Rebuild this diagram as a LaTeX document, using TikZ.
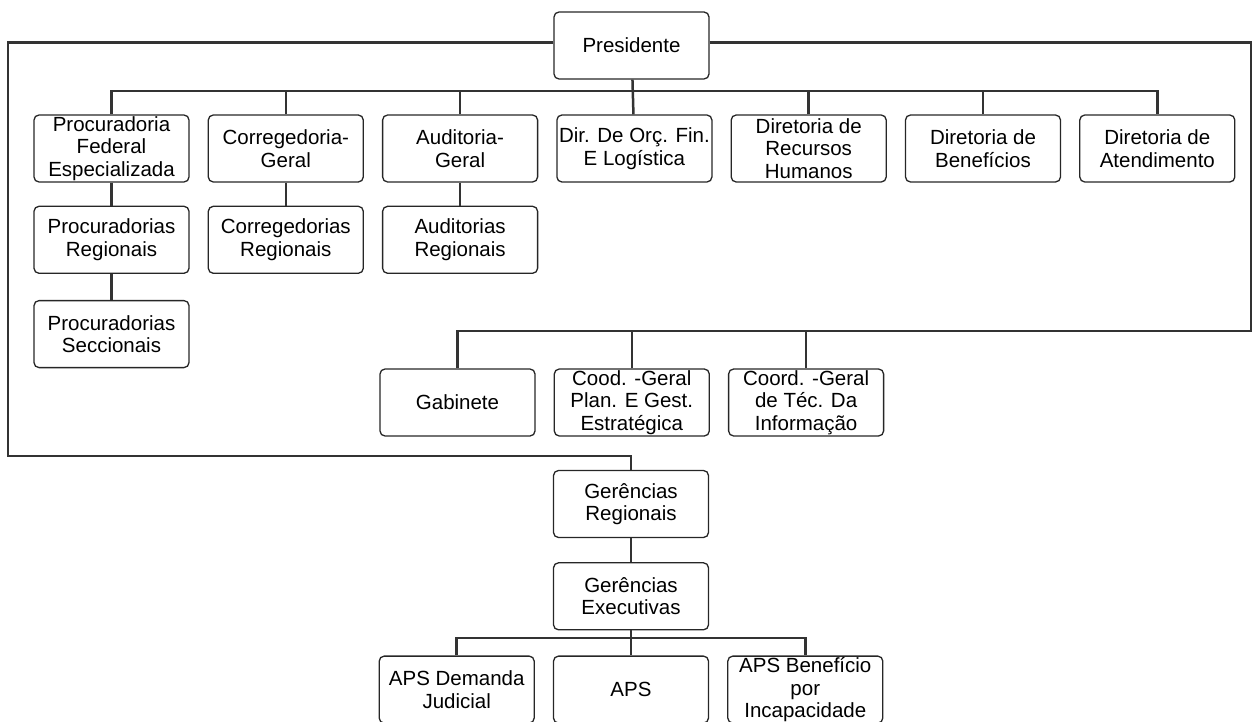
\documentclass[tikz,border=0pt]{standalone}
\usepackage{fontspec}
\setmainfont{Liberation Sans}
\usetikzlibrary{positioning}
\tikzstyle{unit} = [rectangle, rounded corners=5pt, minimum width=155pt, minimum height=67pt, inner sep=0pt, text centered, align=center, draw=black!85, line width=1.3pt, font=\fontsize{20.5}{22.5}\selectfont]
\tikzstyle{link} = [line width=2.5pt, draw=black!80]

\begin{document}
\begin{tikzpicture}[x=1pt,y=-1pt,node distance=18pt]
\useasboundingbox (0,0) rectangle (1255,722);

\node (pres) [unit] at (631.5,45.5) {Presidente};

% diretorias
\node (pfe) [unit] at (111.5,148.5) {Procuradoria\\Federal\\Especializada};
\node (corr) [unit, right=of pfe] {Corregedoria-\\Geral};
\node (aud) [unit, right=of corr] {Auditoria-\\Geral};
\node (dof) [unit, right=of aud] {Dir. De Orç. Fin.\\E Logística};
\node (drh) [unit, right=of dof] {Diretoria de\\Recursos\\Humanos};
\node (dben) [unit, right=of drh] {Diretoria de\\Benefícios};
\node (dat) [unit, right=of dben] {Diretoria de\\Atendimento};

\node (preg) [unit, below=23pt of pfe] {Procuradorias\\Regionais};
\node (creg) [unit, below=23pt of corr] {Corregedorias\\Regionais};
\node (areg) [unit, below=23pt of aud] {Auditorias\\Regionais};
\node (psec) [unit, below=26pt of preg] {Procuradorias\\Seccionais};

% orgaos de assistencia
\node (gab) [unit] at (457.5,402.5) {Gabinete};
\node (cgp) [unit, right=of gab] {Cood. -Geral\\Plan. E Gest.\\Estratégica};
\node (cgt) [unit, right=of cgp] {Coord. -Geral\\de Téc. Da\\Informação};

% gerencias
\node (greg) [unit] at (631,504) {Gerências\\Regionais};
\node (gexe) [unit, below=24pt of greg] {Gerências\\Executivas};
\node (aps) [unit, below=25pt of gexe] {APS};
\node (apsj) [unit, left=of aps] {APS Demanda\\Judicial};
\node (apsb) [unit, right=of aps] {APS Benefício\\por\\Incapacidade};

\coordinate (bar1) at (0,91);
\coordinate (bar2) at (0,638);
\coordinate (lc) at (8,456);
\coordinate (rc) at (1251,331);

\draw[link] (pres) -- (dof);
\draw[link] (pfe.north) -- (pfe.north |- bar1) -- (dat.north |- bar1) -- (dat.north);
\foreach \n in {corr,aud,drh,dben}
  \draw[link] (\n.north) -- (\n.north |- bar1);
\draw[link] (pfe) -- (preg) -- (psec);
\draw[link] (corr) -- (creg);
\draw[link] (aud) -- (areg);

\draw[link] ([yshift=3pt]pres.west) -| (lc) -| (greg.north);
\draw[link] ([yshift=3pt]pres.east) -| (rc) -- (gab.north |- rc) -- (gab.north);
\foreach \n in {cgp,cgt}
  \draw[link] (\n.north) -- (\n.north |- rc);

\draw[link] (greg) -- (gexe) -- (aps);
\draw[link] (apsj.north) -- (apsj.north |- bar2) -- (apsb.north |- bar2) -- (apsb.north);
\end{tikzpicture}
\end{document}
